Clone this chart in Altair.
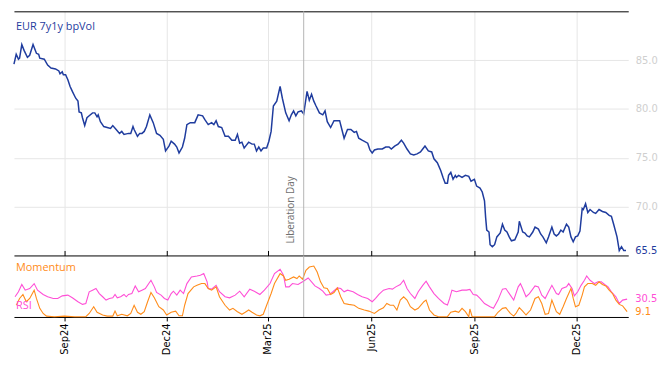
import altair as alt
import pandas as pd

# ---------------- data ----------------
START = (2024, 7, 18)
END = (2026, 1, 16)
LIB_DAY = (2025, 4, 2)
TICKS = [(2024, 9, 1), (2024, 12, 1), (2025, 3, 1), (2025, 6, 1), (2025, 9, 1), (2025, 12, 1)]

TITLE = "EUR 7y1y bpVol"
LIB_LABEL = "Liberation Day"

# EUR 7y1y bpVol: days since START, value
vol_days = [0, 2, 4, 5, 7, 9, 12, 14, 17, 20,
            22, 23, 27, 30, 33, 37, 40, 41, 43, 44,
            46, 48, 50, 52, 55, 57, 58, 60, 61, 63,
            65, 67, 70, 72, 74, 75, 77, 80, 83, 86,
            88, 91, 94, 96, 98, 102, 104, 106, 107, 110,
            112, 114, 116, 118, 121, 124, 127, 130, 133, 135,
            138, 140, 143, 145, 147, 150, 152, 154, 157, 161,
            164, 168, 170, 173, 176, 178, 180, 182, 185, 188,
            191, 194, 197, 199, 201, 203, 205, 207, 209, 212,
            214, 216, 218, 220, 222, 225, 227, 229, 231, 234,
            237, 239, 242, 245, 247, 249, 251, 253, 256, 258,
            261, 263, 265, 267, 269, 272, 275, 277, 279, 282,
            285, 290, 292, 294, 297, 300, 303, 305, 307, 310,
            315, 317, 319, 321, 324, 328, 331, 334, 336, 339,
            342, 345, 347, 350, 353, 356, 359, 362, 364, 366,
            369, 372, 374, 377, 380, 382, 384, 386, 387, 389,
            391, 393, 394, 396, 399, 402, 405, 407, 410, 412,
            415, 417, 419, 420, 421, 423, 424, 426, 428, 430,
            433, 435, 437, 439, 441, 443, 446, 449, 450, 453,
            455, 457, 459, 462, 464, 467, 469, 471, 474, 476,
            479, 481, 483, 485, 487, 489, 492, 494, 496, 498,
            500, 502, 504, 506, 507, 509, 511, 513, 516, 518,
            521, 524, 527, 530, 532, 534, 537, 539, 541, 543,
            545]
vol_vals = [84.6, 85.6, 85.1, 85.2, 86.6, 86.0, 85.3, 85.5, 86.6, 85.7,
            85.6, 85.2, 85.1, 84.5, 84.2, 84.1, 83.9, 83.6, 83.8, 83.5,
            83.5, 83.0, 82.3, 81.8, 81.1, 80.8, 79.7, 79.6, 79.1, 78.3,
            79.1, 79.3, 79.6, 79.6, 79.2, 79.4, 78.7, 78.2, 78.1, 78.0,
            78.3, 77.9, 77.5, 77.7, 77.4, 77.5, 77.5, 78.2, 77.9, 77.2,
            77.5, 77.5, 77.7, 78.2, 79.4, 78.6, 77.5, 77.3, 76.9, 75.7,
            76.2, 76.7, 76.4, 76.1, 75.5, 76.1, 77.0, 78.4, 78.6, 78.6,
            79.4, 79.3, 78.9, 78.4, 78.6, 78.4, 78.8, 78.2, 78.1, 77.2,
            77.2, 76.8, 76.8, 77.4, 76.5, 76.6, 76.0, 76.3, 76.6, 76.4,
            76.4, 75.7, 76.1, 75.7, 76.0, 76.0, 76.7, 77.7, 80.3, 80.8,
            82.3, 81.1, 79.6, 78.8, 79.4, 79.8, 79.3, 79.7, 79.8, 79.5,
            81.8, 80.9, 81.5, 80.8, 80.3, 79.6, 79.4, 79.8, 78.7, 78.1,
            78.8, 78.8, 77.9, 77.0, 77.9, 77.9, 77.6, 77.7, 77.0, 76.8,
            76.5, 75.8, 75.5, 75.8, 75.9, 75.9, 76.1, 76.1, 75.9, 76.2,
            76.4, 76.8, 76.5, 75.9, 75.4, 75.3, 75.4, 75.6, 75.9, 76.2,
            75.7, 75.6, 74.9, 74.5, 73.7, 73.0, 72.4, 72.4, 73.2, 73.5,
            72.8, 73.2, 73.0, 73.2, 73.0, 73.2, 73.1, 72.6, 72.8, 72.1,
            71.9, 71.5, 70.6, 68.9, 67.6, 67.4, 66.1, 65.9, 66.1, 66.9,
            67.3, 68.2, 67.6, 67.4, 66.9, 66.5, 66.6, 67.4, 68.5, 67.4,
            67.3, 67.0, 66.9, 67.4, 67.9, 67.7, 67.2, 66.9, 66.3, 66.9,
            67.9, 67.2, 67.0, 67.2, 67.6, 67.4, 68.2, 67.9, 66.9, 66.4,
            66.9, 67.0, 67.5, 69.8, 69.7, 70.3, 69.4, 69.7, 69.4, 69.3,
            69.7, 69.5, 69.4, 69.1, 69.0, 68.2, 66.9, 65.5, 65.9, 65.5,
            65.5]

# RSI
rsi_days = [1, 4, 7, 10, 14, 18, 21, 26, 30, 35,
            39, 43, 48, 52, 57, 61, 64, 67, 70, 73,
            76, 79, 82, 85, 88, 90, 92, 95, 98, 100,
            102, 105, 108, 111, 114, 117, 122, 125, 127, 131,
            134, 137, 140, 142, 145, 148, 151, 154, 158, 163,
            166, 169, 172, 173, 176, 180, 183, 188, 192, 197,
            201, 205, 210, 214, 219, 223, 228, 232, 237, 240,
            242, 245, 248, 253, 257, 262, 265, 268, 272, 275,
            278, 281, 284, 288, 291, 294, 297, 302, 306, 310,
            315, 319, 322, 325, 329, 334, 337, 340, 344, 347,
            350, 353, 357, 360, 364, 367, 370, 374, 378, 383,
            386, 388, 390, 394, 399, 403, 406, 409, 412, 415,
            419, 424, 427, 431, 435, 438, 442, 445, 449, 451,
            453, 456, 459, 464, 467, 470, 473, 476, 479, 483,
            485, 488, 492, 494, 497, 499, 502, 505, 508, 510,
            513, 517, 520, 523, 526, 529, 532, 536, 539, 542,
            546]
rsi_vals = [34.5, 43, 55.4, 45.8, 48.6, 57, 45.8, 38.4, 34.5, 31.6,
            31.6, 36, 37.3, 32.7, 26, 21.5, 23, 43, 45.8, 48.6,
            40, 34.5, 28.8, 31.6, 32.7, 38.4, 32.7, 34.5, 38.4, 34.5,
            38.4, 40, 53, 43, 45.8, 48.6, 62.7, 51.4, 41.8, 37.3,
            31.6, 28.8, 40, 44, 37.3, 45.8, 40, 57, 68.3, 70,
            71.2, 74, 60, 48.6, 47.5, 54, 43, 34.5, 32.7, 37.3,
            44, 34.5, 47.5, 44, 38.4, 45.8, 57, 74, 81.4, 71.2,
            51.4, 51.4, 57, 55.4, 60, 66.6, 60, 53, 48.6, 44,
            37.3, 38.4, 43, 49.7, 48.6, 43, 45.8, 43, 38.4, 34.5,
            31.6, 26, 31.6, 38.4, 45.8, 48.6, 47.5, 51.4, 55.4, 62.7,
            48.6, 40, 31.6, 43, 54, 61, 51.4, 40, 31.6, 23,
            20.3, 31.6, 45.8, 43, 45.8, 45.8, 47, 38.4, 37.3, 31.6,
            23, 17.5, 14.7, 28.8, 47.5, 48.6, 37.3, 28.8, 51.4, 57,
            48.6, 34.5, 40, 53, 51.4, 37.3, 31.6, 43, 54, 40,
            38.4, 48.6, 51.4, 57, 48.6, 36, 43, 54, 62.7, 70,
            62.7, 57, 60, 60, 55.4, 51.4, 43, 34.5, 23, 28.8,
            30.5]

# Momentum
mom_days = [2, 5, 8, 11, 14, 18, 20, 23, 26, 29,
            36, 45, 54, 64, 67, 71, 74, 79, 83, 88,
            90, 92, 96, 101, 104, 107, 110, 113, 116, 119,
            122, 125, 129, 133, 136, 140, 144, 147, 150, 152,
            155, 160, 163, 167, 170, 173, 176, 180, 183, 188,
            192, 195, 199, 203, 206, 209, 212, 216, 219, 222,
            225, 229, 232, 237, 240, 242, 245, 249, 252, 254,
            257, 260, 263, 267, 270, 273, 276, 279, 282, 285,
            288, 291, 294, 298, 303, 307, 312, 316, 321, 325,
            329, 332, 335, 338, 341, 344, 347, 350, 353, 357,
            360, 365, 367, 370, 374, 378, 386, 389, 393, 396,
            399, 402, 405, 406, 408, 421, 428, 431, 435, 438,
            442, 445, 447, 450, 453, 456, 460, 464, 467, 470,
            473, 476, 479, 483, 486, 489, 492, 494, 496, 498,
            500, 503, 506, 508, 511, 515, 518, 521, 524, 527,
            530, 533, 536, 539, 542, 546]
mom_vals = [20, 31.6, 38.4, 26, 31.6, 45.8, 31.6, 14.7, 6, 1.5,
            0.5, 1.5, 0.5, 0.5, 6, 17.5, 8, 3.4, 1.5, 1.5,
            10, 2, 4.6, 2, 6, 20, 8, 4.6, 9, 26,
            41.8, 32.7, 17.5, 11.9, 3.4, 8, 10, 2, 2, 20,
            40, 51.4, 54, 57, 57, 48.6, 45.8, 51.4, 34.5, 20,
            11.9, 14.7, 9, 4.6, 8, 11.9, 8, 3.4, 2, 4.6,
            20, 40, 57, 74, 70, 62.7, 64.4, 68.3, 65.6, 70,
            64.4, 79.7, 85.3, 87, 76.8, 60, 49.7, 48.6, 38.4, 41.8,
            49.7, 34.5, 23, 21.5, 20, 14.7, 11.9, 10, 6, 11.9,
            15.8, 23, 20, 20, 11.9, 28.8, 34.5, 28.8, 17.5, 11.9,
            14.7, 26, 28.8, 11.9, 3.4, 0.5, 0.5, 8, 10, 8,
            14.7, 9, 0.5, 13.6, 0.5, 0.5, 0.5, 8, 14.7, 15.8,
            6, 1.5, 6, 15.8, 10, 3.4, 11.9, 31.6, 34.5, 23,
            4.6, 6, 28.8, 9, 4.6, 17.5, 31.6, 40, 48.6, 31.6,
            17.5, 20, 37.3, 51.4, 57, 57, 54, 60, 55.4, 53,
            45.8, 40, 28.8, 21.5, 19, 9.1]

# ---------------- styling ----------------
W, HT, HB = 619, 246, 62
BLUE = "#1f3c9e"
PINK = "#ff4fd6"
ORANGE = "#ff8c1a"
GRID = "#e6e6e6"
LABEL_GRAY = "#cfcfcf"
AX_FONT = "DejaVu Sans"
TXT_FONT = "Open Sans"


def dt(t):
    return alt.DateTime(year=t[0], month=t[1], date=t[2])


start_ts = pd.Timestamp(*START)


def to_dates(days):
    return [start_ts + pd.Timedelta(days=d) for d in days]


vol_df = pd.DataFrame({"date": to_dates(vol_days), "value": vol_vals})
rsi_df = pd.DataFrame({"date": to_dates(rsi_days), "value": rsi_vals})
mom_df = pd.DataFrame({"date": to_dates(mom_days), "value": mom_vals})
lib_df = pd.DataFrame({"date": [pd.Timestamp(*LIB_DAY)], "label": [LIB_LABEL]})
vol_last = pd.DataFrame({"value": [vol_vals[-1]], "label": [f"{vol_vals[-1]:.1f}"]})
rsi_last = pd.DataFrame({"value": [rsi_vals[-1]], "label": [f"{rsi_vals[-1]:.1f}"]})
mom_last = pd.DataFrame({"value": [mom_vals[-1]], "label": [f"{mom_vals[-1]:.1f}"]})
title_df = pd.DataFrame({"label": [TITLE]})
mom_lab_df = pd.DataFrame({"label": ["Momentum"]})
rsi_lab_df = pd.DataFrame({"label": ["RSI"]})

tick_dts = [dt(t) for t in TICKS]
x_scale = alt.Scale(domain=[dt(START), dt(END)])

# ---------------- top panel ----------------
top_x = alt.X("date:T", scale=x_scale,
              axis=alt.Axis(orient="top", values=tick_dts, labels=False, ticks=False,
                            domain=True, domainColor="#000000", domainWidth=1,
                            grid=True, gridColor=GRID, gridWidth=1, title=None))
top_y = alt.Y("value:Q", scale=alt.Scale(domain=[65, 90], nice=False, zero=False),
              axis=alt.Axis(orient="right", values=[70, 75, 80, 85], format=".1f",
                            labelColor=LABEL_GRAY, labelFont=AX_FONT, labelFontSize=10,
                            ticks=False, domain=False, labelPadding=7,
                            grid=True, gridColor=GRID, gridWidth=1, title=None))

vol_line = alt.Chart(vol_df).mark_line(color=BLUE, strokeWidth=1.5).encode(x=top_x, y=top_y)
lib_rule_top = alt.Chart(lib_df).mark_rule(color="#b4b4b4", strokeWidth=1).encode(x=top_x)
lib_text = alt.Chart(lib_df).mark_text(
    angle=270, align="left", baseline="bottom", dy=-8, fontSize=10,
    font=TXT_FONT, color="#6e6e6e"
).encode(x=top_x, y=alt.value(HT - 12), text="label:N")
title_text = alt.Chart(title_df).mark_text(
    align="left", baseline="middle", font=TXT_FONT, fontSize=11, color=BLUE
).encode(x=alt.value(2), y=alt.value(16), text="label:N")
vol_last_text = alt.Chart(vol_last).mark_text(
    align="left", baseline="middle", font=AX_FONT, fontSize=10, color=BLUE
).encode(x=alt.value(W + 7), y=top_y, text="label:N")

top = alt.layer(vol_line, lib_rule_top, lib_text, title_text, vol_last_text).properties(
    width=W, height=HT)

# ---------------- bottom panel ----------------
bot_x_bottom = alt.X("date:T", scale=x_scale,
                     axis=alt.Axis(orient="bottom", values=tick_dts, format="%b%y",
                                   labelAngle=270, labelFont=AX_FONT, labelFontSize=10,
                                   labelColor="#000000", ticks=True, tickColor="#000000",
                                   tickSize=4, domain=True, domainColor="#000000",
                                   grid=True, gridColor=GRID, labelPadding=2, title=None))
bot_x_top = alt.X("date:T", scale=x_scale,
                  axis=alt.Axis(orient="top", values=tick_dts, labels=False, ticks=True,
                                tickColor="#000000", tickSize=5, domain=True,
                                domainColor="#000000", grid=False, title=None))
bot_y = alt.Y("value:Q", scale=alt.Scale(domain=[0, 105], nice=False),
              axis=alt.Axis(orient="right", values=[30, 70],
                            labelExpr="datum.value == 30 ? '' : datum.label",
                            labelColor=LABEL_GRAY, labelFont=AX_FONT, labelFontSize=10,
                            ticks=False, domain=False, labelPadding=7,
                            grid=True, gridColor=GRID, title=None))

rsi_line = alt.Chart(rsi_df).mark_line(color=PINK, strokeWidth=1.1).encode(x=bot_x_bottom, y=bot_y)
mom_line = alt.Chart(mom_df).mark_line(color=ORANGE, strokeWidth=1.1).encode(x=bot_x_top, y=bot_y)
lib_rule_bot = alt.Chart(lib_df).mark_rule(color="#b4b4b4", strokeWidth=1).encode(
    x=alt.X("date:T", scale=x_scale, axis=None))
mom_label = alt.Chart(mom_lab_df).mark_text(
    align="left", baseline="middle", font=TXT_FONT, fontSize=11, color=ORANGE
).encode(x=alt.value(2), y=alt.value(13), text="label:N")
rsi_label = alt.Chart(rsi_lab_df).mark_text(
    align="left", baseline="middle", font=TXT_FONT, fontSize=11, color=PINK
).encode(x=alt.value(2), y=alt.value(51), text="label:N")
rsi_last_text = alt.Chart(rsi_last).mark_text(
    align="left", baseline="middle", font=AX_FONT, fontSize=10, color=PINK
).encode(x=alt.value(W + 7), y=alt.Y("value:Q", scale=alt.Scale(domain=[0, 105], nice=False), axis=None), text="label:N")
mom_last_text = alt.Chart(mom_last).mark_text(
    align="left", baseline="middle", font=AX_FONT, fontSize=10, color=ORANGE
).encode(x=alt.value(W + 7), y=alt.Y("value:Q", scale=alt.Scale(domain=[0, 105], nice=False), axis=None), text="label:N")

bottom = alt.layer(
    rsi_line, mom_line, lib_rule_bot, mom_label, rsi_label, rsi_last_text, mom_last_text
).resolve_axis(x="independent").properties(width=W, height=HB)

chart = alt.vconcat(top, bottom, spacing=0, bounds="flush").properties(
    padding={"left": 3, "top": 1, "right": 2, "bottom": 2}
).configure_view(stroke=None)

chart.save("out.html", embed_options={"renderer": "svg", "actions": False})
